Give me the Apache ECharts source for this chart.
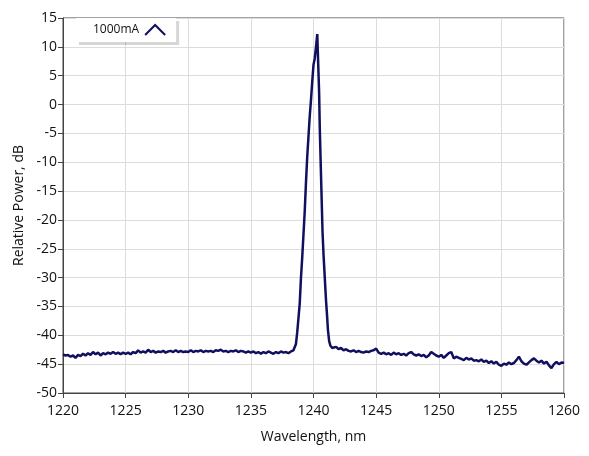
<!DOCTYPE html>
<html>
<head>
<meta charset="utf-8">
<script src="https://cdn.jsdelivr.net/npm/echarts@6/dist/echarts.min.js"></script>
<style>html,body{margin:0;padding:0;background:#fff;}#c{width:589px;height:456px;}</style>
</head>
<body>
<div id="c"></div>
<script>
// Baseline left of peak: 1220.0 .. 1238.4, step 0.2 nm
const leftStart = 1220.0;
const leftStep = 0.2;
const leftValues = [
-43.3,-43.5,-43.4,-43.7,-43.5,-43.9,-43.4,-43.6,-43.2,-43.5,
-43.1,-43.4,-42.9,-43.3,-43.0,-43.5,-43.1,-43.3,-43.0,-43.2,
-42.9,-43.2,-43.0,-43.3,-43.0,-43.2,-43.0,-43.3,-42.9,-43.1,
-42.6,-43.0,-42.8,-43.0,-42.5,-42.9,-42.7,-43.0,-42.8,-42.9,
-42.7,-43.0,-42.8,-42.7,-42.9,-42.6,-42.9,-42.7,-42.9,-42.8,
-42.9,-42.6,-42.9,-42.7,-42.8,-42.6,-42.9,-42.7,-42.8,-42.7,
-42.9,-42.6,-42.7,-42.5,-42.8,-42.7,-42.9,-42.7,-42.8,-42.6,
-42.9,-42.7,-42.8,-43.0,-42.8,-43.0,-42.8,-43.1,-42.9,-43.2,
-42.9,-43.1,-42.8,-43.0,-43.2,-42.9,-43.1,-42.8,-43.0,-42.9,
-43.1,-42.8,-42.6
];
// Peak region (wavelength, dB)
const peakWavelengths = [
1238.5,1238.6,1238.7,1238.8,1238.9,1239.0,1239.1,1239.2,1239.3,1239.4,
1239.5,1239.6,1239.7,1239.8,1239.9,1240.0,1240.1,1240.2,1240.3,1240.38,
1240.45,1240.5,1240.56,1240.64,1240.72,1240.8,1240.9,1241.0,1241.08,1241.15,
1241.25,1241.35,1241.5
];
const peakValues = [
-42.3,-41.5,-39.5,-37.0,-34.5,-30.0,-26.5,-22.5,-18.5,-13.5,
-9.0,-5.5,-2.0,0.8,4.0,6.9,8.0,10.0,12.2,12.0,
2.0,-4.0,-9.0,-15.5,-22.0,-26.0,-30.0,-34.0,-36.5,-39.0,
-41.0,-41.8,-42.2
];
// Baseline right of peak: 1241.6 .. 1260.0, step 0.2 nm
const rightStart = 1241.6;
const rightStep = 0.2;
const rightValues = [
-42.1,-42.0,-42.4,-42.2,-42.6,-42.4,-42.7,-42.8,-42.6,-42.9,
-42.7,-42.9,-43.0,-42.8,-42.9,-42.7,-42.6,-42.3,-43.0,-43.2,
-43.0,-43.3,-43.1,-43.4,-43.0,-43.3,-43.1,-43.4,-43.2,-43.5,
-43.1,-42.9,-43.3,-43.5,-43.3,-43.6,-43.4,-43.8,-43.5,-42.9,
-43.2,-43.5,-43.7,-43.4,-43.9,-43.5,-43.1,-42.9,-44.0,-43.7,
-43.9,-44.1,-44.3,-43.9,-44.2,-44.0,-44.4,-44.3,-44.5,-44.2,
-44.6,-44.4,-44.8,-44.5,-44.9,-44.6,-45.1,-45.3,-44.9,-45.1,
-44.7,-45.0,-44.8,-44.3,-43.7,-44.5,-44.9,-45.1,-44.7,-44.3,
-44.0,-44.4,-44.7,-44.4,-44.9,-44.6,-45.2,-45.7,-45.0,-44.6,
-45.0,-44.7,-44.8
];
const seriesName = '1000mA';
const xTitle = 'Wavelength, nm';
const yTitle = 'Relative Power, dB';

const data = [];
leftValues.forEach((v, i) => data.push([+(leftStart + i * leftStep).toFixed(2), v]));
peakValues.forEach((v, i) => data.push([peakWavelengths[i], v]));
rightValues.forEach((v, i) => data.push([+(rightStart + i * rightStep).toFixed(2), v]));

const lineColor = '#10105e';
const font = '"Open Sans", "Noto Sans", sans-serif';
const chart = echarts.init(document.getElementById('c'));
chart.setOption({
  animation: false,
  backgroundColor: '#ffffff',
  grid: { left: 63, right: 25, top: 18, bottom: 63, show: true, borderColor: '#444', borderWidth: 1, backgroundColor: 'transparent' },
  legend: {
    left: 76, top: 18,
    align: 'right',
    padding: [6, 10, 6, 17],
    itemWidth: 22, itemHeight: 10, itemGap: 10,
    backgroundColor: '#ffffff',
    shadowColor: 'rgba(0,0,0,0.16)', shadowBlur: 0, shadowOffsetX: 3, shadowOffsetY: 3,
    icon: 'path://M0,10 L10,0 L20,10',
    itemStyle: { color: 'rgba(0,0,0,0)', borderColor: lineColor, borderWidth: 2 },
    textStyle: { fontFamily: font, fontSize: 12, color: '#111' },
    data: [seriesName]
  },
  xAxis: {
    type: 'value', min: 1220, max: 1260, interval: 5,
    name: xTitle, nameLocation: 'middle', nameGap: 37,
    nameTextStyle: { fontFamily: font, fontSize: 14, color: '#111' },
    axisLine: { show: true, onZero: false, lineStyle: { color: '#444', width: 1 } },
    axisTick: { show: true, length: 5, lineStyle: { color: '#444' } },
    axisLabel: { fontFamily: font, fontSize: 14, color: '#111', margin: 11, formatter: v => String(v) },
    splitLine: { show: true, lineStyle: { color: '#dcdcdc', width: 1 } }
  },
  yAxis: {
    type: 'value', min: -50, max: 15, interval: 5,
    name: yTitle, nameLocation: 'middle', nameGap: 36, nameRotate: 90,
    nameTextStyle: { fontFamily: font, fontSize: 14, color: '#111' },
    axisLine: { show: true, onZero: false, lineStyle: { color: '#444', width: 1 } },
    axisTick: { show: true, length: 5, lineStyle: { color: '#444' } },
    axisLabel: { fontFamily: font, fontSize: 14, color: '#111', margin: 6 },
    splitLine: { show: true, lineStyle: { color: '#dcdcdc', width: 1 } }
  },
  series: [{
    name: seriesName, type: 'line', data: data,
    showSymbol: false, symbol: 'none',
    lineStyle: { color: lineColor, width: 2.5 },
    itemStyle: { color: lineColor }
  }]
});
</script>
</body>
</html>
